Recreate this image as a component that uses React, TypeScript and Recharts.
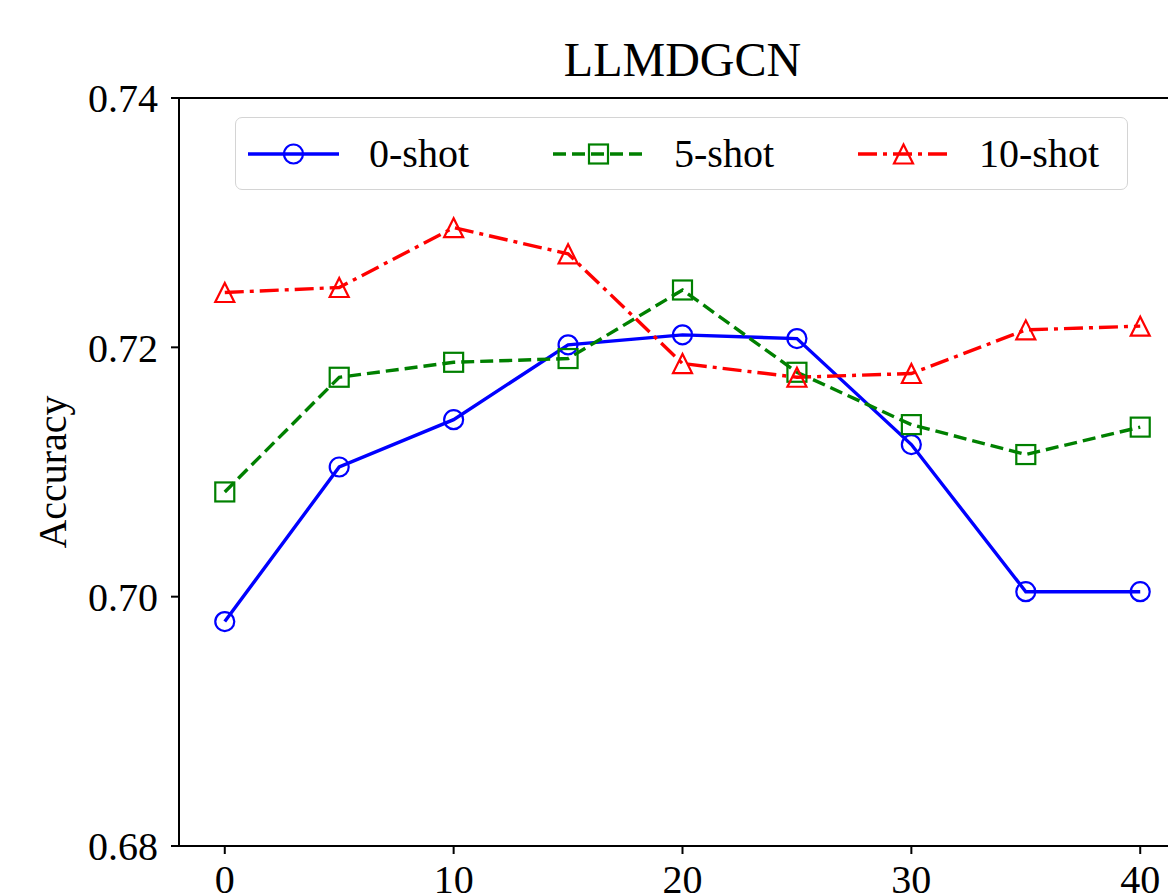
import React from "react"
import { LineChart, Line, XAxis, YAxis, Legend, ReferenceLine, Label } from "recharts"

// shot counts on the x axis
const xValues = [0, 5, 10, 15, 20, 25, 30, 35, 40]
const zeroShot = [0.698, 0.7104, 0.7142, 0.7202, 0.721, 0.7207, 0.7122, 0.7004, 0.7004]
const fiveShot = [0.7084, 0.7176, 0.7188, 0.7191, 0.7246, 0.718, 0.7138, 0.7114, 0.7136]
const tenShot = [0.7244, 0.7248, 0.7296, 0.7275, 0.7187, 0.7176, 0.7179, 0.7214, 0.7217]
const xTicks = [0, 10, 20, 30, 40]
const yTicks = [0.68, 0.7, 0.72, 0.74]

const data = xValues.map((x, i) => ({
  x,
  zero: zeroShot[i],
  five: fiveShot[i],
  ten: tenShot[i],
}))

const FONT = "'Liberation Serif', 'Times New Roman', serif"
const BLUE = "#0000ff"
const GREEN = "#008000"
const RED = "#ff0000"
const LINE_W = 3.4

const series = [
  { key: "zero", name: "0-shot", color: BLUE, dash: undefined as string | undefined, marker: "circle" },
  { key: "five", name: "5-shot", color: GREEN, dash: "13 6", marker: "square" },
  { key: "ten", name: "10-shot", color: RED, dash: "19 6 4 6", marker: "triangle" },
]

function Marker({ type, cx, cy, color }: { type: string; cx: number; cy: number; color: string }) {
  const common = { fill: "none", stroke: color, strokeWidth: 2.2, strokeDasharray: "none" }
  if (type === "circle") return <circle cx={cx} cy={cy} r={9.5} {...common} />
  if (type === "square") return <rect x={cx - 9.5} y={cy - 9.5} width={19} height={19} {...common} />
  const s = 9.5
  return <polygon points={`${cx},${cy - s} ${cx - s},${cy + s} ${cx + s},${cy + s}`} {...common} />
}

const makeDot = (type: string, color: string) => (props: any) => {
  const { cx, cy, index } = props
  if (cx == null || cy == null) return <g key={`${type}-${index}`} />
  return (
    <g key={`${type}-${index}`}>
      <Marker type={type} cx={cx} cy={cy} color={color} />
    </g>
  )
}

function LegendBox() {
  return (
    <div
      style={{
        boxSizing: "border-box",
        width: 893,
        height: 73,
        border: "1.5px solid #d4d4d4",
        borderRadius: 7,
        background: "rgba(255,255,255,0.8)",
        display: "flex",
        alignItems: "center",
        paddingLeft: 12,
        fontFamily: FONT,
        fontSize: 40,
        color: "#000",
      }}
    >
      {series.map((s, i) => (
        <div key={s.key} style={{ display: "flex", alignItems: "center", marginLeft: i === 0 ? 0 : 84 }}>
          <svg width={91} height={30} style={{ overflow: "visible" }}>
            <line x1={0} y1={15} x2={91} y2={15} stroke={s.color} strokeWidth={LINE_W} strokeDasharray={s.dash} />
            <Marker type={s.marker} cx={45.5} cy={15} color={s.color} />
          </svg>
          <span style={{ marginLeft: 30, lineHeight: 1 }}>{s.name}</span>
        </div>
      ))}
    </div>
  )
}

export default function App() {
  return (
    <div
      style={{
        position: "absolute",
        left: 0,
        top: 0,
        width: 1168,
        height: 893,
        overflow: "hidden",
        background: "#fff",
      }}
    >
      <div
        style={{
          position: "absolute",
          left: 179,
          width: 1007,
          top: 36,
          textAlign: "center",
          fontFamily: FONT,
          fontSize: 48,
          lineHeight: 1,
          color: "#000",
        }}
      >
        LLMDGCN
      </div>
      <LineChart
        width={1260}
        height={960}
        data={data}
        margin={{ top: 98, right: 74, left: 0, bottom: 54 }}
      >
        <XAxis
          dataKey="x"
          type="number"
          domain={[-2, 42]}
          ticks={xTicks}
          height={60}
          axisLine={{ stroke: "#000", strokeWidth: 2 }}
          tickLine={{ stroke: "#000", strokeWidth: 2 }}
          tickSize={8}
          tickMargin={11}
          tick={{ fill: "#000", fontSize: 40, fontFamily: FONT }}
        />
        <YAxis
          type="number"
          domain={[0.68, 0.74]}
          ticks={yTicks}
          width={179}
          tickFormatter={(v: number) => v.toFixed(2)}
          axisLine={{ stroke: "#000", strokeWidth: 2 }}
          tickLine={{ stroke: "#000", strokeWidth: 2 }}
          tickSize={8}
          tickMargin={13}
          tick={{ fill: "#000", fontSize: 40, fontFamily: FONT }}
        >
          <Label
            content={() => (
              <text
                x={66}
                y={472}
                transform="rotate(-90 66 472)"
                textAnchor="middle"
                fontFamily={FONT}
                fontSize={40}
                fill="#000"
              >
                Accuracy
              </text>
            )}
          />
        </YAxis>
        <ReferenceLine y={0.74} stroke="#000" strokeWidth={2} />
        <ReferenceLine x={42} stroke="#000" strokeWidth={2} />
        <Legend
          layout="horizontal"
          verticalAlign="middle"
          align="center"
          wrapperStyle={{ left: 235, top: 117, width: 893, height: 73, bottom: "auto", right: "auto" }}
          content={() => <LegendBox />}
        />
        {series.map((s) => (
          <Line
            key={s.key}
            dataKey={s.key}
            name={s.name}
            type="linear"
            stroke={s.color}
            strokeWidth={LINE_W}
            strokeDasharray={s.dash}
            dot={makeDot(s.marker, s.color)}
            activeDot={false}
            isAnimationActive={false}
          />
        ))}
      </LineChart>
    </div>
  )
}
